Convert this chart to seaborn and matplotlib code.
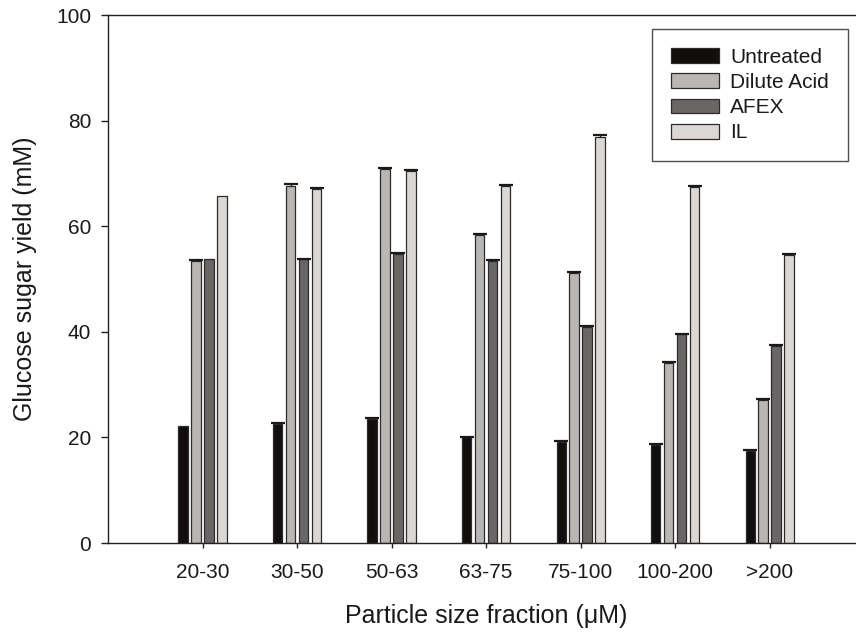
import numpy as np
import pandas as pd
import seaborn as sns
import matplotlib.pyplot as plt

# Data
fractions = ["20-30", "30-50", "50-63", "63-75", "75-100", "100-200", ">200"]
treatments = ["Untreated", "Dilute Acid", "AFEX", "IL"]

untreated = [22.2, 22.6, 23.5, 20.0, 19.2, 18.6, 17.5]
dilute_acid = [53.5, 67.7, 70.8, 58.4, 51.2, 34.1, 27.1]
afex = [53.7, 53.7, 54.8, 53.5, 40.9, 39.5, 37.4]
il = [65.8, 67.0, 70.4, 67.7, 76.9, 67.4, 54.5]

untreated_err = [0.0, 0.15, 0.15, 0.15, 0.15, 0.15, 0.15]
dilute_acid_err = [0.15, 0.2, 0.15, 0.15, 0.15, 0.15, 0.15]
afex_err = [0.0, 0.15, 0.15, 0.15, 0.15, 0.15, 0.15]
il_err = [0.0, 0.2, 0.2, 0.15, 0.3, 0.15, 0.15]

colors = ["#110e0d", "#bbb5b3", "#6b6564", "#dbd7d4"]


def main():
    sns.set_style("ticks")
    plt.rcParams["font.family"] = ["Liberation Sans", "DejaVu Sans"]
    plt.rcParams["text.color"] = "#1a1a1a"

    values = [untreated, dilute_acid, afex, il]
    errors = [untreated_err, dilute_acid_err, afex_err, il_err]

    df = pd.DataFrame({
        "fraction": fractions * len(treatments),
        "treatment": np.repeat(treatments, len(fractions)),
        "glucose": np.concatenate(values),
    })

    fig = plt.figure(figsize=(8.56, 6.36), dpi=100)
    ax = fig.add_axes([0.1262, 0.1462, 0.8832, 0.8302])

    sns.barplot(data=df, x="fraction", y="glucose", hue="treatment",
                order=fractions, hue_order=treatments, palette=colors,
                width=0.55, gap=0.3, edgecolor="#2b2b2b", linewidth=0.9,
                errorbar=None, ax=ax)

    # upper error bars only, placed on the bars seaborn drew
    for cont, err in zip(ax.containers, errors):
        err = np.asarray(err)
        xs = np.array([b.get_x() + b.get_width() / 2 for b in cont])
        hs = np.array([b.get_height() for b in cont])
        keep = err > 0
        _, caps, _ = ax.errorbar(xs[keep], hs[keep],
                                 yerr=[np.zeros(keep.sum()), err[keep]],
                                 fmt="none", ecolor="#1a1a1a", elinewidth=1.0,
                                 capsize=5, capthick=1.6, zorder=3)
        caps[0].set_visible(False)

    ax.set_xlim(-1.0, 7.0)
    ax.set_ylim(0, 100)
    ax.set_yticks([0, 20, 40, 60, 80, 100])

    for side in ax.spines.values():
        side.set_color("#222222")
        side.set_linewidth(1.0)

    ax.tick_params(axis="y", direction="out", length=5, width=1.0,
                   color="#222222", labelcolor="#1a1a1a", labelsize=15, pad=7)
    ax.tick_params(axis="x", direction="out", length=3.5, width=1.0,
                   color="#222222", labelcolor="#1a1a1a", labelsize=15, pad=11)

    ax.set_xlabel("Particle size fraction (\u03bcM)", fontsize=18, labelpad=16,
                  color="#1a1a1a")
    ax.set_ylabel("Glucose sugar yield (mM)", fontsize=18, labelpad=14,
                  color="#1a1a1a")

    handles, labels = ax.get_legend_handles_labels()
    leg = ax.legend(handles, labels, loc="upper left",
                    bbox_to_anchor=(652 / 856, 1 - 29 / 636),
                    bbox_transform=fig.transFigure, borderaxespad=0,
                    fontsize=15, frameon=True, fancybox=False,
                    handlelength=2.3, handleheight=0.72, handletextpad=0.55,
                    labelspacing=0.3, borderpad=0.9)
    leg.get_frame().set_edgecolor("#222222")
    leg.get_frame().set_linewidth(1.0)

    fig.savefig("out.png", dpi=100)


if __name__ == "__main__":
    main()
